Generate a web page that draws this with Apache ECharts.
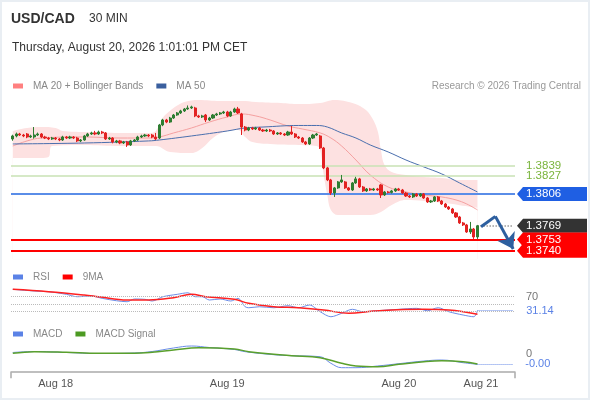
<!DOCTYPE html>
<html><head><meta charset="utf-8">
<script src="https://cdn.jsdelivr.net/npm/echarts@6/dist/echarts.min.js"></script>
<style>
html,body{margin:0;padding:0;background:#fff;}
#wrap{position:relative;width:590px;height:400px;}
#c{width:590px;height:400px;}
#frame{position:absolute;left:0;top:0;width:590px;height:400px;box-sizing:border-box;border:2px solid #e9eef3;pointer-events:none;}
</style></head><body>
<div id="wrap"><div id="c"></div><div id="frame"></div></div>
<script>
// ---- data ----
const slotCount = 141; // 30-minute slots on the time axis (last 10 are future space)
const tickIndex = [12, 60, 108, 131];
const tickLabels = ['Aug 18', 'Aug 19', 'Aug 20', 'Aug 21'];

// [open, close, low, high]
const candles = [
[1.38701,1.38736,1.38680,1.38750],[1.38736,1.38759,1.38720,1.38775],[1.38759,1.38747,1.38735,1.38772],[1.38747,1.38736,1.38722,1.38760],
[1.38759,1.38724,1.38710,1.38770],[1.38724,1.38736,1.38712,1.38750],[1.38724,1.38747,1.38705,1.38840],[1.38747,1.38759,1.38735,1.38775],
[1.38759,1.38724,1.38710,1.38770],[1.38724,1.38712,1.38700,1.38738],[1.38712,1.38701,1.38688,1.38725],[1.38701,1.38712,1.38690,1.38725],
[1.38712,1.38701,1.38688,1.38724],[1.38701,1.38689,1.38675,1.38712],[1.38689,1.38724,1.38678,1.38738],[1.38724,1.38712,1.38700,1.38736],
[1.38712,1.38724,1.38700,1.38738],[1.38724,1.38712,1.38700,1.38735],[1.38712,1.38678,1.38665,1.38725],[1.38678,1.38689,1.38665,1.38700],
[1.38689,1.38736,1.38680,1.38748],[1.38736,1.38759,1.38725,1.38772],[1.38759,1.38771,1.38748,1.38785],[1.38771,1.38759,1.38745,1.38795],
[1.38759,1.38782,1.38748,1.38798],[1.38782,1.38771,1.38758,1.38795],[1.38771,1.38701,1.38690,1.38782],[1.38701,1.38712,1.38690,1.38725],
[1.38712,1.38666,1.38650,1.38722],[1.38666,1.38678,1.38652,1.38690],[1.38678,1.38654,1.38640,1.38690],[1.38654,1.38666,1.38642,1.38678],
[1.38666,1.38631,1.38608,1.38678],[1.38631,1.38678,1.38620,1.38690],[1.38678,1.38689,1.38665,1.38700],[1.38689,1.38724,1.38678,1.38738],
[1.38724,1.38736,1.38712,1.38750],[1.38736,1.38747,1.38725,1.38760],[1.38747,1.38736,1.38722,1.38758],[1.38747,1.38724,1.38710,1.38760],
[1.38724,1.38701,1.38688,1.38771],[1.38712,1.38864,1.38700,1.38876],[1.38864,1.38922,1.38850,1.38935],[1.38922,1.38898,1.38885,1.38935],
[1.38898,1.38945,1.38888,1.38958],[1.38945,1.38980,1.38935,1.38992],[1.38980,1.39004,1.38970,1.39015],[1.39004,1.39027,1.38992,1.39040],
[1.39027,1.39050,1.39015,1.39062],[1.39050,1.39062,1.39040,1.39091],[1.39062,1.39074,1.39050,1.39088],[1.39062,1.38969,1.38955,1.39075],
[1.38969,1.38957,1.38945,1.38982],[1.38957,1.38969,1.38945,1.38982],[1.38980,1.38922,1.38898,1.38992],[1.38922,1.38945,1.38910,1.38958],
[1.38945,1.38980,1.38935,1.38992],[1.38980,1.38992,1.38968,1.39005],[1.38992,1.39004,1.38980,1.39015],[1.39004,1.39015,1.38992,1.39028],
[1.39015,1.38969,1.38955,1.39028],[1.38969,1.39015,1.38958,1.39028],[1.39015,1.39050,1.39005,1.39065],[1.39050,1.39004,1.38992,1.39074],
[1.38992,1.38840,1.38747,1.39005],[1.38840,1.38805,1.38790,1.38852],[1.38805,1.38829,1.38792,1.38842],[1.38829,1.38817,1.38805,1.38842],
[1.38817,1.38829,1.38805,1.38842],[1.38829,1.38805,1.38795,1.38840],[1.38805,1.38794,1.38782,1.38818],[1.38794,1.38805,1.38782,1.38818],
[1.38805,1.38794,1.38782,1.38818],[1.38794,1.38759,1.38748,1.38805],[1.38759,1.38771,1.38748,1.38782],[1.38771,1.38759,1.38748,1.38782],
[1.38759,1.38747,1.38735,1.38770],[1.38747,1.38782,1.38737,1.38795],[1.38782,1.38759,1.38748,1.38852],[1.38759,1.38724,1.38712,1.38770],
[1.38724,1.38712,1.38700,1.38736],[1.38712,1.38666,1.38655,1.38724],[1.38666,1.38643,1.38630,1.38678],[1.38643,1.38712,1.38632,1.38724],
[1.38712,1.38747,1.38700,1.38760],[1.38747,1.38759,1.38736,1.38771],[1.38736,1.38596,1.38585,1.38748],[1.38596,1.38364,1.38350,1.38608],
[1.38364,1.38224,1.38210,1.38376],[1.38224,1.38072,1.38049,1.38236],[1.38072,1.38131,1.38026,1.38142],[1.38131,1.38201,1.38120,1.38212],
[1.38201,1.38224,1.38190,1.38282],[1.38201,1.38131,1.38120,1.38212],[1.38131,1.38107,1.38096,1.38142],[1.38107,1.38189,1.38096,1.38200],
[1.38189,1.38236,1.38178,1.38260],[1.38236,1.38142,1.38130,1.38248],[1.38142,1.38096,1.38084,1.38154],[1.38096,1.38119,1.38084,1.38130],
[1.38119,1.38107,1.38096,1.38131],[1.38107,1.38119,1.38096,1.38131],[1.38119,1.38107,1.38096,1.38131],[1.38166,1.38049,1.38014,1.38178],
[1.38049,1.38084,1.38037,1.38096],[1.38084,1.38078,1.38066,1.38096],[1.38078,1.38096,1.38066,1.38108],[1.38096,1.38119,1.38084,1.38131],
[1.38119,1.38107,1.38096,1.38131],[1.38107,1.38072,1.38061,1.38119],[1.38072,1.38037,1.38026,1.38084],[1.38037,1.38026,1.38014,1.38049],
[1.38026,1.38061,1.38014,1.38072],[1.38061,1.38037,1.38026,1.38072],[1.38037,1.38061,1.38026,1.38072],[1.38061,1.38014,1.38003,1.38072],
[1.38014,1.37968,1.37956,1.38026],[1.37968,1.37979,1.37956,1.37991],[1.37979,1.38026,1.37968,1.38037],[1.38026,1.37979,1.37968,1.38037],
[1.37979,1.37944,1.37933,1.37991],[1.37944,1.37909,1.37898,1.37956],[1.37909,1.37886,1.37875,1.37921],[1.37886,1.37840,1.37828,1.37898],
[1.37840,1.37793,1.37782,1.37851],[1.37793,1.37723,1.37712,1.37805],[1.37723,1.37700,1.37688,1.37735],[1.37700,1.37618,1.37607,1.37712],
[1.37618,1.37653,1.37595,1.37735],[1.37653,1.37560,1.37537,1.37665],[1.37560,1.37690,1.37537,1.37700]
];

// [slot index, price]
const bbUpper = [[0,1.38794],[4,1.38829],[8,1.38840],[12,1.38829],[14,1.38794],[20,1.38782],[30,1.38771],[38,1.38771],[40,1.38794],[42,1.38950],[44,1.39030],[46,1.39090],[48,1.39132],[52,1.39155],[58,1.39143],[64,1.39143],[68,1.39132],[75,1.39120],[80,1.39108],[86,1.39120],[90,1.39155],[95,1.39120],[98,1.39062],[100,1.38980],[102,1.38805],[103,1.38573],[104,1.38398],[106,1.38317],[110,1.38282],[115,1.38259],[120,1.38247],[125,1.38224],[130,1.38224]];
const bbLower = [[0,1.38480],[8,1.38480],[10,1.38491],[11,1.38619],[20,1.38631],[30,1.38619],[40,1.38619],[44,1.38550],[50,1.38538],[53,1.38596],[56,1.38712],[59,1.38782],[63,1.38805],[65,1.38724],[67,1.38666],[72,1.38643],[80,1.38631],[85,1.38619],[86,1.38573],[87,1.38282],[88,1.38049],[89,1.37875],[91,1.37816],[100,1.37816],[103,1.37851],[106,1.37933],[110,1.37990],[115,1.37980],[120,1.37960],[125,1.37930],[130,1.37900]];
const ma20 = [[0,1.38619],[4,1.38678],[8,1.38712],[20,1.38724],[30,1.38712],[38,1.38712],[41,1.38724],[45,1.38771],[50,1.38829],[55,1.38898],[60,1.38957],[64,1.38992],[68,1.38969],[72,1.38922],[77,1.38852],[81,1.38817],[86,1.38771],[89,1.38712],[92,1.38619],[96,1.38456],[100,1.38282],[105,1.38142],[110,1.38084],[115,1.38049],[120,1.38026],[124,1.37991],[127,1.37944],[130,1.37875]];
const ma50 = [[0,1.38643],[20,1.38654],[38,1.38678],[41,1.38689],[50,1.38736],[60,1.38794],[65,1.38829],[70,1.38840],[80,1.38858],[85,1.38858],[88,1.38840],[92,1.38771],[96,1.38712],[100,1.38631],[105,1.38550],[110,1.38456],[115,1.38375],[120,1.38294],[125,1.38189],[130,1.38084]];

const resistLevels = [1.3839, 1.3827];
const pivotLevel = 1.3806;
const supportLevels = [1.3753, 1.3740];
// forecast path [slot, price]
const forecast = [[131,1.3768],[135,1.3780],[140,1.3742]];

const rsi = [[0,90.7],[6,86],[10,84],[15,76.7],[18,70],[22,72],[25,65.5],[29,58.8],[32,56],[34,63.6],[37,62.7],[39,58],[42,70],[46,76.7],[49,81],[51,70],[53,70],[55,60.8],[58,63.6],[61,58],[63,65.5],[65,42],[66,39.2],[69,42],[73,39.2],[77,44.8],[80,39.2],[83,46.8],[86,28],[89,14],[92,23.6],[95,34.8],[98,28],[102,30.8],[108,34.8],[113,37.5],[116,30.8],[119,39.2],[122,28],[126,18.8],[129,14],[130,31.14]];
const rsiMa = [[0,90.7],[10,84],[20,74.8],[24,70],[32,60.8],[38,60.8],[45,67.2],[50,76.7],[54,70],[62,62.7],[66,51.5],[73,42],[80,39.2],[87,32.8],[94,23.6],[101,30],[115,34.8],[122,32.8],[130,20.8]];
const rsiLevels = [70, 50, 30];

const macd = [[0,0.000058],[6,0.000096],[15,0.000058],[24,0.000019],[34,0.000039],[39,0.000096],[45,0.000231],[50,0.000308],[55,0.00025],[62,0.000173],[65,0.000089],[73,-0.000027],[78,-0.000065],[86,-0.000104],[89,-0.000358],[92,-0.000527],[96,-0.000527],[102,-0.000462],[108,-0.000373],[115,-0.00027],[120,-0.000231],[126,-0.000335],[130,-0.000397]];
const macdSignal = [[0,0.000027],[6,0.000089],[15,0.000065],[24,0.000027],[34,0.000027],[39,0.000065],[45,0.000154],[52,0.000243],[62,0.000193],[66,0.000089],[73,-0.000012],[78,-0.000065],[86,-0.000142],[92,-0.000358],[96,-0.000462],[102,-0.000489],[108,-0.000397],[115,-0.000296],[120,-0.000258],[126,-0.000296],[130,-0.000385]];

// ---- chart ----
const FONT = "'Liberation Sans', Arial, sans-serif";
const slots = Array.from({length: slotCount}, (_, i) => 'S' + i);
const lastIdx = candles.length - 1;
const lastClose = candles[lastIdx][1];
const lastRsi = rsi[rsi.length - 1][1];
const lastMacd = macd[macd.length - 1][1];
const futureEnd = slotCount - 1;

const boxColors = {blue: '#1f5fe3', dark: '#333333', red: '#ff0000'};
const levelBoxes = [
  ...resistLevels.map(v => [0, v, 'green']),
  [0, pivotLevel, 'blue'],
  [0, lastClose, 'dark'],
  ...supportLevels.map(v => [0, v, 'red'])
];

const legendCommon = {
  padding: 0, itemWidth: 10, itemHeight: 5, itemGap: 13, icon: 'rect', selectedMode: false,
  textStyle: {color: '#888', fontSize: 10, fontFamily: FONT, padding: [0, 0, 0, 5]}
};

const chart = echarts.init(document.getElementById('c'), null, {renderer: 'canvas'});
const option = {
  animation: false,
  backgroundColor: '#fff',
  textStyle: {fontFamily: FONT},
  title: [
    {text: 'USD/CAD', left: 11, top: 12, padding: 0, textStyle: {fontSize: 14, fontWeight: 'bold', color: '#333', fontFamily: FONT}},
    {text: '30 MIN', left: 89, top: 13, padding: 0, textStyle: {fontSize: 12, fontWeight: 'normal', color: '#333', fontFamily: FONT}},
    {text: 'Thursday, August 20, 2026 1:01:01 PM CET', left: 12, top: 41.5, padding: 0, textStyle: {fontSize: 12, fontWeight: 'normal', color: '#333', fontFamily: FONT}},
    {text: 'Research © 2026 Trading Central', right: 9, top: 81, padding: 0, textStyle: {fontSize: 10, fontWeight: 'normal', color: '#999', fontFamily: FONT}}
  ],
  legend: [
    Object.assign({}, legendCommon, {left: 13, top: 81, data: [
      {name: 'MA 20 + Bollinger Bands', itemStyle: {color: '#ff8080'}},
      {name: 'MA 50', itemStyle: {color: '#3a5f9e'}}]}),
    Object.assign({}, legendCommon, {left: 13, top: 272, data: [
      {name: 'RSI', itemStyle: {color: '#5b82e6'}},
      {name: '9MA', itemStyle: {color: '#ff0000'}}]}),
    Object.assign({}, legendCommon, {left: 13, top: 329, data: [
      {name: 'MACD', itemStyle: {color: '#5b82e6'}},
      {name: 'MACD Signal', itemStyle: {color: '#4c9a22'}}]})
  ],
  grid: [
    {left: 11, width: 504, top: 96.1, height: 163.2, outerBoundsMode: 'none'},
    {left: 11, width: 504, top: 286, height: 35.75, outerBoundsMode: 'none'},
    {left: 11, width: 504, top: 341, height: 31.2, outerBoundsMode: 'none'}
  ],
  xAxis: [
    {type: 'category', gridIndex: 0, data: slots, show: false},
    {type: 'category', gridIndex: 1, data: slots, show: false},
    {type: 'category', gridIndex: 2, data: slots,
      axisLine: {show: true, onZero: false, lineStyle: {color: '#aaaaaa', width: 1.5}},
      axisTick: {show: true, interval: (i) => i === 0, length: 6, lineStyle: {color: '#aaaaaa', width: 1.5}},
      axisLabel: {interval: (i) => tickIndex.includes(i), formatter: (v, i) => tickLabels[tickIndex.indexOf(i)] || '',
        color: '#555', fontSize: 11, margin: 6, fontFamily: FONT, hideOverlap: false},
      splitLine: {show: false}}
  ],
  yAxis: [
    {type: 'value', gridIndex: 0, min: 1.373, max: 1.392, show: false, splitLine: {show: false}},
    {type: 'value', gridIndex: 1, min: 0, max: 100, show: false, splitLine: {show: false}},
    {type: 'value', gridIndex: 2, min: -0.0007, max: 0.0005, show: false, splitLine: {show: false}}
  ],
  series: [
    {name: 'bbUpper', type: 'line', xAxisIndex: 0, yAxisIndex: 0, data: bbUpper, smooth: 0.4, showSymbol: false, silent: true, z: 1,
      lineStyle: {width: 0, opacity: 0}, areaStyle: {color: '#fde1e1', opacity: 1, origin: 'start'}},
    {name: 'bbLower', type: 'line', xAxisIndex: 0, yAxisIndex: 0, data: bbLower, smooth: 0.4, showSymbol: false, silent: true, z: 2,
      lineStyle: {width: 0, opacity: 0}, areaStyle: {color: '#ffffff', opacity: 1, origin: 'start'}},
    {name: 'MA 20 + Bollinger Bands', type: 'line', xAxisIndex: 0, yAxisIndex: 0, data: ma20, smooth: 0.4, showSymbol: false, silent: true, z: 3,
      color: '#f5a0a0', itemStyle: {color: '#f5a0a0'}, lineStyle: {color: '#f5a0a0', width: 1}},
    {name: 'MA 50', type: 'line', xAxisIndex: 0, yAxisIndex: 0, data: ma50, smooth: 0.4, showSymbol: false, silent: true, z: 3,
      color: '#4a6fae', itemStyle: {color: '#4a6fae'}, lineStyle: {color: '#4a6fae', width: 1}},
    {name: 'levels', type: 'line', xAxisIndex: 0, yAxisIndex: 0, data: [[0, pivotLevel]], showSymbol: false, silent: true, z: 6,
      lineStyle: {opacity: 0}, itemStyle: {opacity: 0},
      markLine: {silent: true, symbol: 'none', precision: 6, label: {show: false}, animation: false,
        data: [
          ...resistLevels.map(v => ({yAxis: v, lineStyle: {color: '#c9e2b4', width: 1.5, type: 'solid'}})),
          {yAxis: pivotLevel, lineStyle: {color: '#5a8de8', width: 2, type: 'solid'}},
          ...supportLevels.map(v => ({yAxis: v, lineStyle: {color: '#ff0000', width: 2, type: 'solid'}})),
          [{xAxis: lastIdx, yAxis: lastClose, lineStyle: {color: '#999', width: 1.5, type: 'dotted'}}, {xAxis: futureEnd, yAxis: lastClose}],
          [{coord: forecast[0], symbol: 'none', lineStyle: {color: '#2d5f9f', width: 3, type: 'solid'}}, {coord: forecast[1], symbol: 'none'}],
          [{coord: forecast[1], symbol: 'none', lineStyle: {color: '#2d5f9f', width: 3, type: 'solid'}}, {coord: forecast[2], symbol: 'arrow', symbolSize: 15}]
        ]}
    },
    {name: 'price', type: 'candlestick', xAxisIndex: 0, yAxisIndex: 0, data: candles, barWidth: 2.6, silent: true, z: 5,
      itemStyle: {color: '#2e7d32', color0: '#e32222', borderColor: '#2e7d32', borderColor0: '#e32222', borderWidth: 1}},
    {name: 'levelLabels', type: 'custom', xAxisIndex: 0, yAxisIndex: 0, data: levelBoxes, clip: false, silent: true, z: 10,
      encode: {x: 0, y: 1},
      renderItem: function (params, api) {
        const item = levelBoxes[params.dataIndex];
        const lv = item[1], kind = item[2];
        const y = api.coord([0, lv])[1];
        const xr = params.coordSys.x + params.coordSys.width;
        const txt = {type: 'text', x: xr + 11, y: y, style: {text: lv.toFixed(4), fill: kind === 'green' ? '#7ab43c' : '#ffffff',
          fontSize: 11.5, fontFamily: FONT, verticalAlign: 'middle', align: 'left'}};
        if (kind === 'green') return txt;
        return {type: 'group', children: [
          {type: 'polygon', shape: {points: [[xr + 2, y], [xr + 8, y - 7], [xr + 72, y - 7], [xr + 72, y + 7], [xr + 8, y + 7]]}, style: {fill: boxColors[kind]}},
          txt]};
      }
    },
    {name: 'RSI', type: 'line', xAxisIndex: 1, yAxisIndex: 1, data: rsi, smooth: 0.3, showSymbol: false, silent: true, z: 3,
      color: '#6b8de8', itemStyle: {color: '#6b8de8'}, lineStyle: {color: '#6b8de8', width: 1},
      markLine: {silent: true, symbol: 'none', precision: 4, animation: false,
        label: {show: true, position: 'end', fontSize: 11, fontFamily: FONT},
        data: [
          ...rsiLevels.map((v, k) => ({yAxis: v, lineStyle: {color: '#bbbbbb', width: 1, type: 'dotted'},
            label: k === 0 ? {show: true, formatter: String(v), color: '#777', distance: 11} : {show: false}})),
          [{xAxis: lastIdx, yAxis: lastRsi, lineStyle: {color: '#6b8de8', width: 1, type: 'dotted'},
            label: {show: true, formatter: lastRsi.toFixed(2), color: '#5b82e6', distance: 13}}, {xAxis: futureEnd, yAxis: lastRsi}]
        ]}
    },
    {name: '9MA', type: 'line', xAxisIndex: 1, yAxisIndex: 1, data: rsiMa, smooth: 0.4, showSymbol: false, silent: true, z: 4,
      color: '#ff2020', itemStyle: {color: '#ff2020'}, lineStyle: {color: '#ff2020', width: 1.5}},
    {name: 'MACD', type: 'line', xAxisIndex: 2, yAxisIndex: 2, data: macd, smooth: 0.4, showSymbol: false, silent: true, z: 3,
      color: '#6b8de8', itemStyle: {color: '#6b8de8'}, lineStyle: {color: '#6b8de8', width: 1},
      markLine: {silent: true, symbol: 'none', precision: 8, animation: false,
        label: {show: true, position: 'end', fontSize: 11, fontFamily: FONT},
        data: [
          {yAxis: 0, lineStyle: {color: 'rgba(0,0,0,0)', width: 0}, label: {show: true, formatter: '0', color: '#777', distance: 11}},
          [{xAxis: lastIdx, yAxis: lastMacd, lineStyle: {color: '#6b8de8', width: 1, type: 'dotted'},
            label: {show: true, formatter: lastMacd.toFixed(2), color: '#5b82e6', distance: 12}}, {xAxis: futureEnd, yAxis: lastMacd}]
        ]}
    },
    {name: 'MACD Signal', type: 'line', xAxisIndex: 2, yAxisIndex: 2, data: macdSignal, smooth: 0.4, showSymbol: false, silent: true, z: 4,
      color: '#5aa02c', itemStyle: {color: '#5aa02c'}, lineStyle: {color: '#5aa02c', width: 1.5}}
  ]
};
chart.setOption(option);
</script></body></html>
